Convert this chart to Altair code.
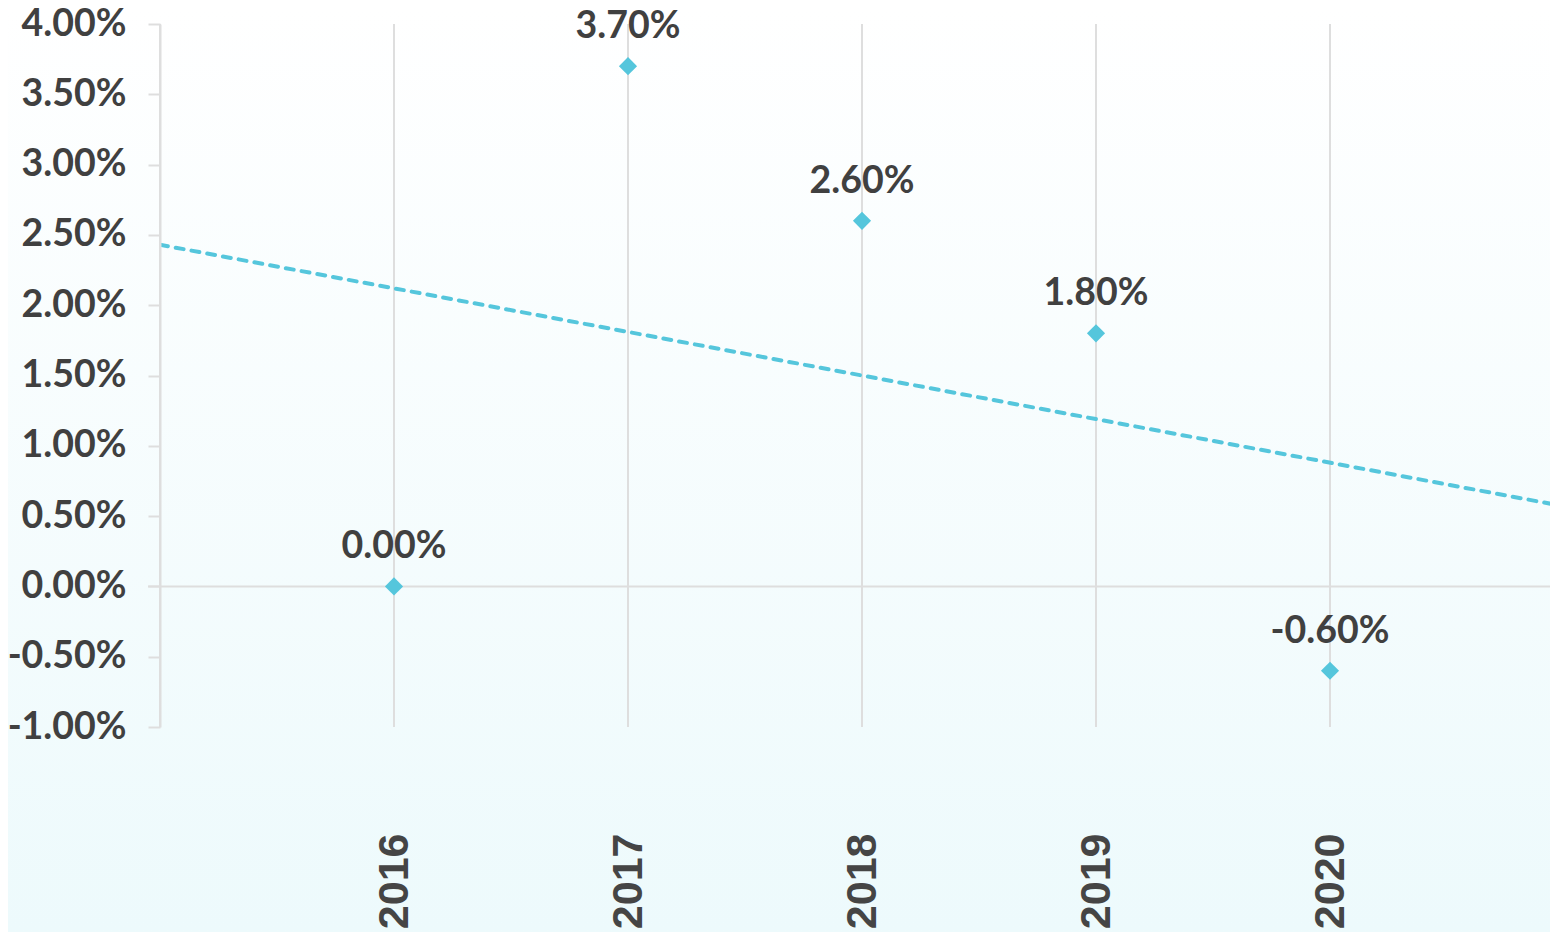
import altair as alt
import pandas as pd

years = [2016, 2017, 2018, 2019, 2020]
values = [0.000, 0.037, 0.026, 0.018, -0.006]
grid_years = [2015, 2016, 2017, 2018, 2019, 2020]
y_ticks = [-0.01, -0.005, 0.0, 0.005, 0.01, 0.015, 0.02, 0.025, 0.03, 0.035, 0.04]

W = 1390
H = 703
PX_PER_YEAR = 234
x_max = 2015 + W / PX_PER_YEAR

df = pd.DataFrame({"year": years, "value": values})
grid_df = pd.DataFrame({"year": grid_years})

TEXT = "#404040"
GRID = "#dedede"
TEAL = "#55c6dc"

xscale = alt.Scale(domain=[2015, x_max], nice=False, zero=False)
yscale = alt.Scale(domain=[-0.01, 0.04], nice=False, zero=False)

xaxis = alt.Axis(values=years, format="d", labelAngle=270, ticks=False, domain=False,
                 grid=False, labelPadding=106, labelFont="Liberation Sans",
                 labelFontWeight="bold", labelFontSize=43, labelColor="#454545",
                 title=None, zindex=1)
yaxis = alt.Axis(values=y_ticks, format=".2%", tickSize=12, tickColor=GRID,
                 domainColor=GRID, domainWidth=2, tickWidth=2, grid=False, labelPadding=22,
                 labelFont="Lato", labelFontWeight="bold", labelFontSize=37.5,
                 labelColor=TEXT, title=None, zindex=1,
                 labelExpr="replace(datum.label, '\u2212', '-')")

bg = alt.Chart(alt.Data(values=[{}])).mark_rect(
    clip=False,
    color=alt.Gradient(gradient="linear", x1=0, x2=0, y1=0, y2=1,
                       stops=[alt.GradientStop(offset=0, color="#ffffff"),
                              alt.GradientStop(offset=1, color="#edfafc")])
).encode(x=alt.value(-152), x2=alt.value(W + 20), y=alt.value(-16), y2=alt.value(H + 205))

vgrid = alt.Chart(grid_df).mark_rule(color=GRID, strokeWidth=2).encode(
    x=alt.X("year:Q", scale=xscale, axis=xaxis),
    y=alt.value(0), y2=alt.value(H)
)

zero = alt.Chart(alt.Data(values=[{}])).mark_rule(color=GRID, strokeWidth=2, clip=False).encode(
    y=alt.Y(datum=0, scale=yscale, axis=yaxis),
    x=alt.value(-12), x2=alt.value(W)
)

trend = alt.Chart(df).transform_regression(
    "year", "value", extent=[2015, 2021]
).mark_line(color=TEAL, strokeWidth=4, strokeDash=[8, 8], strokeCap="round", clip=True).encode(
    x=alt.X("year:Q", scale=xscale),
    y=alt.Y("value:Q", scale=yscale)
)

points = alt.Chart(df).mark_point(shape="diamond", filled=True, size=330, color=TEAL, opacity=1).encode(
    x=alt.X("year:Q", scale=xscale),
    y=alt.Y("value:Q", scale=yscale)
)

labels = alt.Chart(df).transform_calculate(
    label="replace(format(datum.value, '.2%'), '\u2212', '-')"
).mark_text(font="Lato", fontWeight="bold", fontSize=37.5, color=TEXT,
            baseline="alphabetic", dy=-28).encode(
    x=alt.X("year:Q", scale=xscale),
    y=alt.Y("value:Q", scale=yscale),
    text=alt.Text("label:N")
)

chart = alt.layer(bg, vgrid, zero, trend, points, labels).properties(
    width=W, height=H,
    autosize=alt.AutoSizeParams(type="none"),
    padding={"left": 152, "top": 16, "right": 0, "bottom": 205},
    background="#ffffff"
).configure_view(stroke=None)

chart.save("out.html", embed_options={"renderer": "svg", "actions": False})
